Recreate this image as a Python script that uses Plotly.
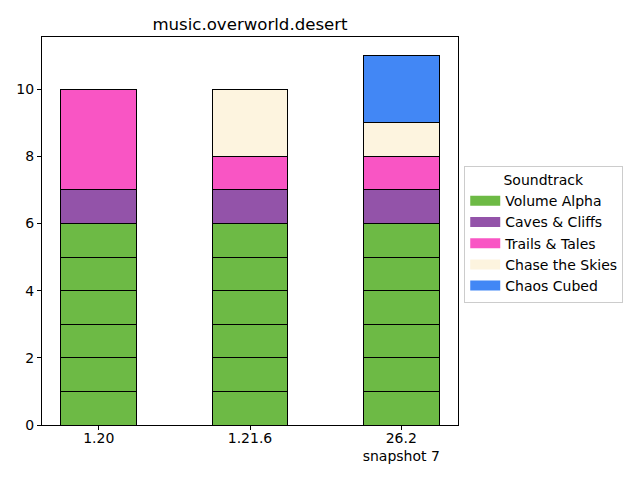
import plotly.graph_objects as go

categories = ["1.20", "1.21.6", "26.2<br>snapshot 7"]

# segments per category (each stacked block is drawn separately)
volume_alpha = [[1, 1, 1, 1, 1, 1], [1, 1, 1, 1, 1, 1], [1, 1, 1, 1, 1, 1]]
caves_cliffs = [[1], [1], [1]]
trails_tales = [[3], [1], [1]]
chase_skies = [[], [2], [1]]
chaos_cubed = [[], [], [2]]

series = [
    ("Volume Alpha", volume_alpha, "#6dba45"),
    ("Caves & Cliffs", caves_cliffs, "#9353a9"),
    ("Trails & Tales", trails_tales, "#f955c4"),
    ("Chase the Skies", chase_skies, "#fdf4df"),
    ("Chaos Cubed", chaos_cubed, "#4287f5"),
]

fig = go.Figure()
for name, segs, color in series:
    n = max(len(s) for s in segs)
    for k in range(n):
        fig.add_trace(go.Bar(
            x=categories,
            y=[s[k] if k < len(s) else None for s in segs],
            name=name,
            legendgroup=name,
            showlegend=False,
            marker=dict(color=color, line=dict(color="black", width=1)),
            hoverinfo="skip",
        ))
    # legend swatch: a flat wide patch like matplotlib's
    fig.add_trace(go.Scatter(
        x=[None], y=[None], mode="lines", name=name, legendgroup=name,
        line=dict(color=color, width=10), showlegend=True,
    ))

font = "DejaVu Sans, sans-serif"
# page body has an 8px margin, so margins are shifted by 8px
fig.update_layout(
    width=640, height=480,
    barmode="stack", bargap=0.5,
    plot_bgcolor="white", paper_bgcolor="white",
    margin=dict(l=34, r=190, t=29, b=63, autoexpand=False),
    font=dict(family=font, size=14, color="black"),
    title=dict(text="music.overworld.desert", x=(34 + 450) / 2 / 640, xanchor="center",
               y=1 - 16 / 480, yanchor="middle", font=dict(size=16.6)),
    legend=dict(
        title=dict(text="Soundtrack", side="top center", font=dict(size=14)),
        x=1.015, y=0.6675, xanchor="left", yanchor="top",
        bordercolor="#cccccc", borderwidth=1, font=dict(size=14),
        traceorder="normal", itemwidth=30, tracegroupgap=0,
    ),
)
fig.update_xaxes(range=[-0.375, 2.375], showline=True, linecolor="black", mirror=True,
                 ticks="outside", ticklen=4, tickcolor="black", showgrid=False,
                 automargin=False, ticklabelstandoff=-4)
fig.update_yaxes(range=[0, 11.55], dtick=2, showline=True, linecolor="black", mirror=True,
                 ticks="outside", ticklen=4, tickcolor="black", showgrid=False, zeroline=False,
                 automargin=False)

fig.write_html("out.html")
